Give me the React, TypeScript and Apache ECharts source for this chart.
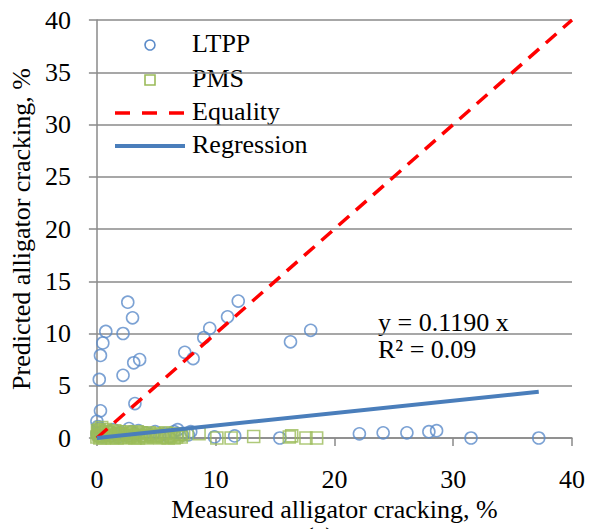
import React, { useEffect, useRef } from "react";
import * as echarts from "echarts";

const xTicks = [0, 10, 20, 30, 40];
const yTicks = [0, 5, 10, 15, 20, 25, 30, 35, 40];

const ltpp: number[][] = [
  [2.6, 13.0], [3.0, 11.5], [0.75, 10.2], [2.2, 10.0], [0.5, 9.1], [0.3, 7.9],
  [3.1, 7.2], [3.6, 7.5], [7.4, 8.2], [8.1, 7.6], [11.9, 13.1], [11.0, 11.6],
  [9.5, 10.5], [9.0, 9.6], [16.3, 9.2], [18.0, 10.3], [2.2, 6.0], [0.2, 5.6],
  [3.2, 3.3], [0.3, 2.6], [0.0, 1.6], [0.1, 1.1], [4.9, 0.6], [6.8, 0.8],
  [7.9, 0.6], [7.7, 0.3], [9.9, 0.1], [11.6, 0.2], [15.4, 0.0], [22.1, 0.4],
  [24.1, 0.5], [26.1, 0.5], [27.95, 0.6], [28.6, 0.7], [31.5, 0.0], [37.2, 0.0],
  [0.1, 0.2], [0.3, 0.5], [0.5, 0.1], [0.8, 0.3], [1.0, 0.6], [1.2, 0.2],
  [1.5, 0.4], [1.8, 0.1], [2.0, 0.5], [2.3, 0.3], [2.6, 0.2], [2.9, 0.6],
  [3.2, 0.4], [3.5, 0.7], [3.8, 0.2], [4.1, 0.5], [4.5, 0.3], [5.3, 0.2],
  [5.7, 0.4], [6.1, 0.1], [6.5, 0.6], [7.2, 0.3], [0.2, 0.9], [0.0, 0.4],
  [1.4, 0.8], [2.7, 0.9],
];

const pms: number[][] = [
  [0.0, 0.1], [0.1, 0.5], [0.2, 0.8], [0.3, 0.2], [0.4, 1.0], [0.5, 0.4],
  [0.6, 0.0], [0.8, 0.6], [0.9, 0.2], [1.1, 0.3], [1.3, 0.0], [1.4, 0.5],
  [1.6, 0.2], [1.8, 0.4], [2.0, 0.1], [2.2, 0.3], [2.4, 0.0], [2.6, 0.4],
  [2.8, 0.2], [3.0, 0.1], [3.3, 0.3], [3.5, 0.0], [3.7, 0.5], [4.0, 0.2],
  [4.2, 0.0], [4.5, 0.3], [4.8, 0.1], [5.0, 0.2], [5.3, 0.0], [5.6, 0.3],
  [5.9, 0.1], [6.2, 0.2], [6.5, 0.0], [6.8, 0.3], [7.1, 0.1], [7.3, 0.4],
  [8.6, 0.4], [10.1, 0.0], [11.3, 0.0], [13.2, 0.15], [16.2, 0.1], [16.4, 0.2],
  [17.6, 0.0], [18.5, 0.0],
  [0.05, 0.7], [0.15, 0.3], [0.25, 0.0], [0.35, 0.6], [0.45, 0.2], [0.7, 0.8],
  [0.95, 0.5], [1.2, 0.1], [1.5, 0.7], [1.7, 0.0], [1.9, 0.6], [2.1, 0.4],
  [2.5, 0.6], [2.7, 0.1], [2.9, 0.5], [3.2, 0.0], [3.4, 0.6], [3.6, 0.2],
  [3.9, 0.4], [4.1, 0.1], [4.4, 0.5], [4.7, 0.2], [5.1, 0.4], [5.5, 0.1],
  [5.8, 0.5], [6.0, 0.0], [6.4, 0.4], [6.7, 0.1], [7.0, 0.3],
];

const equality: number[][] = [[0, 0], [40, 40]];
const regressionSlope = 0.119;
const regressionX = [0, 37.2];
const regression: number[][] = regressionX.map((x) => [x, x * regressionSlope]);

const legendNames = ["LTPP", "PMS", "Equality", "Regression"];

const FONT = "Liberation Serif";
const GRAY = "#8a8a8a";
const BLUE_PT = "#5b8bc9";
const GREEN_PT = "#9bbb59";
const RED = "#ff0000";
const BLUE_LN = "#4a7ebb";

export default function App() {
  const ref = useRef<HTMLDivElement>(null);
  useEffect(() => {
    document.body.style.margin = "0";
    const chart = echarts.init(ref.current!, undefined, { renderer: "svg" });
    const legendY = [45, 80, 113, 146];
    const textOf = (i: number) => ({
      type: "text",
      left: 192,
      top: legendY[i] - 15,
      style: { text: legendNames[i], fontSize: 26, fontFamily: FONT, fill: "#000" },
    });
    chart.setOption({
      animation: false,
      backgroundColor: "#ffffff",
      textStyle: { fontFamily: FONT },
      grid: { left: 90, right: 17, top: 20, bottom: 91 },
      xAxis: {
        type: "value",
        min: xTicks[0],
        max: xTicks[xTicks.length - 1],
        interval: 10,
        name: "Measured alligator cracking, %",
        nameLocation: "middle",
        nameGap: 44,
        nameTextStyle: { fontSize: 26, lineHeight: 26, color: "#000", fontFamily: FONT },
        axisLine: { lineStyle: { color: GRAY, width: 1.5 } },
        axisTick: { show: true, length: 8, lineStyle: { color: GRAY, width: 1.5 } },
        axisLabel: { fontSize: 26, color: "#000", margin: 28, fontFamily: FONT },
        splitLine: { show: false },
      },
      yAxis: {
        type: "value",
        min: yTicks[0],
        max: yTicks[yTicks.length - 1],
        interval: 5,
        name: "Predicted alligator cracking, %",
        nameLocation: "middle",
        nameGap: 48,
        nameTextStyle: { fontSize: 26, color: "#000", fontFamily: FONT },
        axisLine: { show: true, lineStyle: { color: GRAY, width: 1.5 } },
        axisTick: { show: true, length: 8, lineStyle: { color: GRAY, width: 1.5 } },
        axisLabel: { fontSize: 26, color: "#000", margin: 26, fontFamily: FONT },
        splitLine: { show: true, lineStyle: { color: GRAY, width: 1.5 } },
      },
      series: [
        {
          name: "LTPP",
          type: "scatter",
          data: ltpp,
          symbol: "circle",
          symbolSize: 12,
          itemStyle: { color: "rgba(255,255,255,0)", borderColor: BLUE_PT, borderWidth: 1.6 },
        },
        {
          name: "PMS",
          type: "scatter",
          data: pms,
          symbol: "rect",
          symbolSize: 12,
          itemStyle: { color: "rgba(255,255,255,0)", borderColor: GREEN_PT, borderWidth: 1.6 },
        },
        {
          name: "Equality",
          type: "line",
          data: equality,
          symbol: "none",
          lineStyle: { color: RED, width: 3.5, type: [14, 9] },
        },
        {
          name: "Regression",
          type: "line",
          data: regression,
          symbol: "none",
          lineStyle: { color: BLUE_LN, width: 4 },
        },
      ],
      graphic: [
        {
          type: "circle",
          shape: { cx: 150, cy: legendY[0], r: 5 },
          style: { fill: "none", stroke: BLUE_PT, lineWidth: 1.6 },
        },
        {
          type: "rect",
          shape: { x: 145, y: legendY[1] - 5, width: 10, height: 10 },
          style: { fill: "none", stroke: GREEN_PT, lineWidth: 1.6 },
        },
        {
          type: "line",
          shape: { x1: 115, y1: legendY[2], x2: 185, y2: legendY[2] },
          style: { stroke: RED, lineWidth: 3.5, lineDash: [15, 12] },
        },
        {
          type: "line",
          shape: { x1: 115, y1: legendY[3], x2: 185, y2: legendY[3] },
          style: { stroke: BLUE_LN, lineWidth: 4 },
        },
        textOf(0),
        textOf(1),
        textOf(2),
        textOf(3),
        {
          type: "text",
          left: 378,
          top: 309,
          style: { text: "y = 0.1190 x", fontSize: 26, fontFamily: FONT, fill: "#000" },
        },
        {
          type: "text",
          left: 378,
          top: 336,
          style: { text: "R² = 0.09", fontSize: 26, fontFamily: FONT, fill: "#000" },
        },
        {
          type: "text",
          left: 305,
          top: 523,
          style: { text: "(a)", fontSize: 26, lineHeight: 26, fontFamily: FONT, fill: "#000" },
        },
      ],
    });
    return () => chart.dispose();
  }, []);
  return <div ref={ref} style={{ width: 589, height: 529 }} />;
}
